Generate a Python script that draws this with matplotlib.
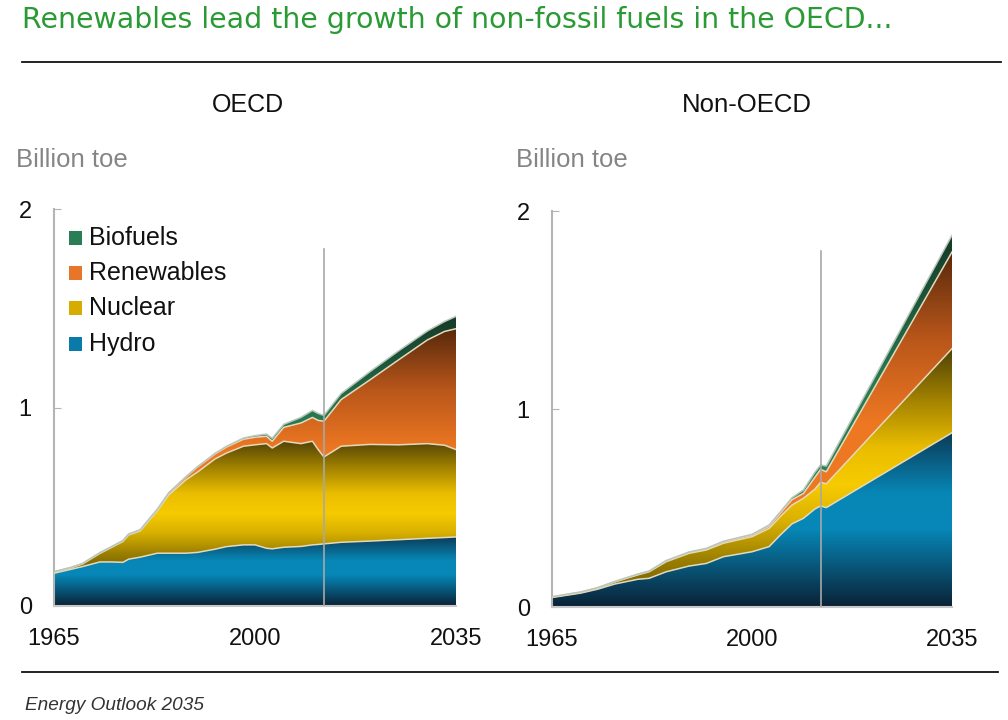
"""
Non-fossil fuel growth, OECD vs Non-OECD (Energy Outlook 2035)
stacked areas with a vertical gradient on each fuel
"""
import numpy as np
import matplotlib
matplotlib.use('Agg')
import matplotlib.pyplot as plt
from matplotlib.colors import LinearSegmentedColormap
from matplotlib.patches import Rectangle
from matplotlib.lines import Line2D

plt.rcParams['font.family'] = ['Liberation Sans', 'DejaVu Sans']

# OECD, billion toe
oecd_years = [1965, 1968, 1970, 1973, 1975, 1977, 1978, 1980, 1983, 1985, 1988, 1990,
              1993, 1995, 1998, 2000, 2002, 2003, 2005, 2008, 2010, 2011, 2012,
              2015, 2020, 2025, 2030, 2033, 2035]
oecd_hydro = [0.165, 0.185, 0.199, 0.222, 0.222, 0.220, 0.236, 0.246, 0.266, 0.266, 0.266, 0.270,
              0.286, 0.299, 0.308, 0.308, 0.291, 0.288, 0.296, 0.300, 0.308, 0.310, 0.313,
              0.321, 0.327, 0.334, 0.341, 0.345, 0.348]
oecd_nuclear = [0.005, 0.007, 0.013, 0.043, 0.073, 0.105, 0.122, 0.132, 0.214, 0.294, 0.370, 0.405,
                0.454, 0.471, 0.497, 0.504, 0.527, 0.508, 0.534, 0.518, 0.522, 0.478, 0.438,
                0.484, 0.487, 0.478, 0.477, 0.465, 0.440]
oecd_renewables = [0.002, 0.002, 0.002, 0.003, 0.003, 0.004, 0.004, 0.005, 0.007, 0.010, 0.014, 0.025,
                   0.025, 0.030, 0.035, 0.038, 0.037, 0.034, 0.070, 0.104, 0.120, 0.147, 0.180,
                   0.235, 0.325, 0.428, 0.522, 0.573, 0.609]
oecd_biofuels = [0.001, 0.001, 0.001, 0.001, 0.001, 0.001, 0.001, 0.001, 0.001, 0.001, 0.002, 0.002,
                 0.003, 0.004, 0.006, 0.008, 0.011, 0.015, 0.015, 0.028, 0.035, 0.035, 0.029,
                 0.030, 0.041, 0.045, 0.045, 0.050, 0.062]

# Non-OECD, billion toe
non_years = [1965, 1970, 1973, 1976, 1980, 1982, 1985, 1989, 1992, 1995, 2000, 2003,
             2005, 2007, 2009, 2011, 2012, 2013, 2035]
non_hydro = [0.048, 0.070, 0.090, 0.116, 0.140, 0.145, 0.178, 0.207, 0.220, 0.254, 0.279, 0.305,
             0.365, 0.420, 0.448, 0.495, 0.510, 0.502, 0.880]
non_nuclear = [0.002, 0.003, 0.005, 0.010, 0.022, 0.033, 0.051, 0.064, 0.068, 0.068, 0.076, 0.092,
               0.093, 0.095, 0.101, 0.100, 0.120, 0.120, 0.425]
non_renewables = [0.001, 0.002, 0.002, 0.002, 0.003, 0.003, 0.004, 0.005, 0.006, 0.007, 0.008, 0.011,
                  0.017, 0.027, 0.025, 0.060, 0.065, 0.061, 0.488]
non_biofuels = [0.001, 0.001, 0.001, 0.001, 0.001, 0.001, 0.002, 0.002, 0.002, 0.003, 0.004, 0.006,
                0.007, 0.010, 0.017, 0.025, 0.022, 0.029, 0.084]

fuels = ['Hydro', 'Nuclear', 'Renewables', 'Biofuels']
last_actual = 2012

# gradients, bottom -> top of each band
grads = {
    'Hydro': [(0, '#0a2236'), (0.45, '#0688b8'), (0.65, '#0787b6'), (1, '#0c3a56')],
    'Nuclear': [(0, '#6e5a00'), (0.15, '#9c8000'), (0.3, '#d8b000'), (0.45, '#f7cb00'),
                (0.6, '#eabd00'), (0.8, '#a08000'), (1, '#4e4107')],
    'Renewables': [(0, '#f07a22'), (0.5, '#ee7822'), (0.75, '#b8561a'), (1, '#57290c')],
    'Biofuels': [(0, '#2f9060'), (0.6, '#267a50'), (1, '#163a28')],
}
legend_cols = {'Biofuels': '#2a7d55', 'Renewables': '#e8762a', 'Nuclear': '#d6ac00', 'Hydro': '#0a7aa8'}

W, H = 1008, 720


def fx(px):
    return px / W


def fy(py):
    return 1 - py / H


def grad_band(ax, x, lo, hi, name):
    """fill between lo and hi with a vertical gradient clipped to the band"""
    cmap = LinearSegmentedColormap.from_list(name, grads[name])
    poly = ax.fill_between(x, lo, hi, facecolor='none', edgecolor='none')
    path = poly.get_paths()[0]
    g = np.linspace(0, 1, 256).reshape(-1, 1)
    im = ax.imshow(g, cmap=cmap, aspect='auto', origin='lower', interpolation='bilinear',
                   extent=[x[0], x[-1], lo.min(), hi.max()], zorder=1)
    im.set_clip_path(path, transform=ax.transData)


def panel(ax, years, series):
    x = np.array(years, dtype=float)
    lo = np.zeros(len(x))
    for name, vals in zip(fuels, series):
        hi = lo + np.array(vals)
        grad_band(ax, x, lo, hi, name)
        lo = hi
    # thin light edges between the layers
    tops = np.cumsum(np.array(series), axis=0)
    for i, t in enumerate(tops):
        col = '#b9c6b9' if i == 3 else '#e4d9bc'
        ax.plot(x, t, color=col, lw=1.1, zorder=3)
    ax.plot([last_actual, last_actual], [0, 1.8], color='#a8a8a8', lw=1.2, zorder=4)
    ax.set_xlim(1965, 2035)
    ax.set_ylim(0, 2)
    ax.set_xticks([1965, 2000, 2035])
    ax.set_yticks([0, 1, 2])
    for s in ['top', 'right']:
        ax.spines[s].set_visible(False)
    ax.spines['left'].set_color('#b4b4b4')
    ax.spines['bottom'].set_color('#c8c8c8')
    ax.spines['left'].set_linewidth(1.5)
    ax.spines['bottom'].set_linewidth(1.5)
    ax.tick_params(axis='y', direction='in', length=5, color='#b4b4b4', pad=16,
                   labelsize=17, labelcolor='#111111')
    ax.tick_params(axis='x', length=0, pad=16, labelsize=17, labelcolor='#111111')
    ax.set_facecolor('none')


fig = plt.figure(figsize=(W / 100, H / 100), dpi=100)

ax1 = fig.add_axes([fx(54), fy(606), fx(456) - fx(54), fy(209) - fy(606)])
panel(ax1, oecd_years, [oecd_hydro, oecd_nuclear, oecd_renewables, oecd_biofuels])

ax2 = fig.add_axes([fx(552), fy(607), fx(952) - fx(552), fy(211) - fy(607)])
panel(ax2, non_years, [non_hydro, non_nuclear, non_renewables, non_biofuels])

# titles and rules
fig.text(fx(22), fy(28), 'Renewables lead the growth of non-fossil fuels in the OECD...',
         color='#2a9a34', fontsize=20.4, family=['DejaVu Sans'], ha='left', va='baseline')
fig.add_artist(Line2D([fx(22), fx(1001)], [fy(62), fy(62)], color='#111111', lw=1.3))
fig.text(fx(248), fy(112), 'OECD', fontsize=18, ha='center', va='baseline', color='#111111')
fig.text(fx(747), fy(112), 'Non-OECD', fontsize=18.5, ha='center', va='baseline', color='#111111')
fig.text(fx(16), fy(167), 'Billion toe', fontsize=18.5, color='#858585', ha='left', va='baseline')
fig.text(fx(516), fy(167), 'Billion toe', fontsize=18.5, color='#858585', ha='left', va='baseline')
fig.add_artist(Line2D([fx(22), fx(998)], [fy(672), fy(672)], color='#111111', lw=1.3))
fig.text(fx(25), fy(710), 'Energy Outlook 2035', fontsize=13.7, style='italic',
         color='#333333', ha='left', va='baseline')

# legend, drawn by hand
legend_order = ['Biofuels', 'Renewables', 'Nuclear', 'Hydro']
for i, name in enumerate(legend_order):
    cy = 238 + i * 35.2
    fig.add_artist(Rectangle((fx(69), fy(cy + 7)), fx(82) - fx(69), fy(cy - 7) - fy(cy + 7),
                             transform=fig.transFigure, facecolor=legend_cols[name], edgecolor='none'))
    fig.text(fx(89), fy(cy), name, fontsize=18, color='#111111', ha='left', va='center')

fig.savefig('out.png', dpi=100)
